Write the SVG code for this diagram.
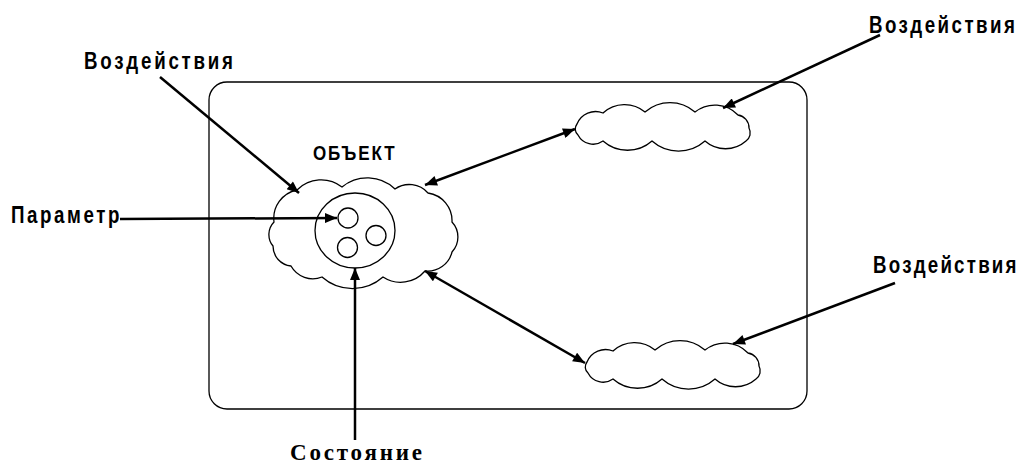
<svg xmlns="http://www.w3.org/2000/svg" width="1021" height="464" viewBox="0 0 1021 464">
  <style>
    .frame { fill: none; stroke: #000; stroke-width: 1.3; }
    .cloud { fill: #fff; stroke: #000; stroke-width: 1.3; }
    .ring { fill: none; stroke: #000; stroke-width: 1.3; }
    .arrow { fill: none; stroke: #000; stroke-width: 2.5; }
    .lbl { font-family: "Liberation Sans", Arial, sans-serif; font-weight: bold; font-size: 24px; fill: #000; }
    .lbl-small { font-family: "Liberation Sans", Arial, sans-serif; font-weight: bold; font-size: 20px; fill: #000; }
    .lbl-serif { font-family: "Liberation Serif", "Times New Roman", serif; font-weight: bold; font-size: 23px; fill: #000; }
  </style>
  <defs>
    <marker id="head" viewBox="0 0 12 10" refX="12" refY="5" markerWidth="13" markerHeight="10" markerUnits="userSpaceOnUse" orient="auto-start-reverse">
      <path d="M0,0 L12,5 L0,10 Z" fill="#000"/>
    </marker>
    <path id="smallCloud" d="M577,124 A20 20 0 0 1 603,113 A32 32 0 0 1 645,112 A38 38 0 0 1 695,112 A32 32 0 0 1 738,115 A13 13 0 0 1 749,128 A10 10 0 0 1 746,141 A31 31 0 0 1 705,141 A40 40 0 0 1 652,141 A37 37 0 0 1 603,141 A17 17 0 0 1 578,135 A8 8 0 0 1 577,124 Z"/>
  </defs>
  <rect width="1021" height="464" fill="#fff"/>

  <!-- system boundary -->
  <g id="system">
    <rect class="frame" x="209" y="82" width="598" height="327" rx="18" ry="18"/>
  </g>

  <!-- object with its state and parameters -->
  <g id="object">
    <path class="cloud" d="M274,222 A29 29 0 0 1 297,190 A34 34 0 0 1 342,187 A40 40 0 0 1 395,189 A25 25 0 0 1 428,193 A28 28 0 0 1 452,222 A22 22 0 0 1 452,252 A25 25 0 0 1 425,271 A32 32 0 0 1 383,277 A46 46 0 0 1 322,277 A25 25 0 0 1 291,266 A20 20 0 0 1 273,246 A18 18 0 0 1 274,222 Z"/>
    <ellipse class="ring" cx="355" cy="230.5" rx="40" ry="37.5"/>
    <circle class="ring" cx="348" cy="218" r="10"/>
    <circle class="ring" cx="376" cy="235.5" r="10"/>
    <circle class="ring" cx="347.5" cy="247.5" r="10"/>
    <text class="lbl-small" transform="translate(313,160) scale(0.85,1)" textLength="96" lengthAdjust="spacing">ОБЪЕКТ</text>
  </g>

  <!-- neighbouring systems -->
  <g id="env-upper">
    <use href="#smallCloud" class="cloud"/>
  </g>
  <g id="env-lower">
    <use href="#smallCloud" class="cloud" transform="translate(10,238)"/>
  </g>

  <!-- labels: condensed bold face, widened with letter spacing -->
  <g id="label-impact-left">
    <text class="lbl" transform="translate(84,69) scale(0.78,1)" textLength="191" lengthAdjust="spacing">Воздействия</text>
  </g>
  <g id="label-impact-top">
    <text class="lbl" transform="translate(869,33) scale(0.78,1)" textLength="187" lengthAdjust="spacing">Воздействия</text>
  </g>
  <g id="label-impact-right">
    <text class="lbl" transform="translate(873,273) scale(0.78,1)" textLength="184" lengthAdjust="spacing">Воздействия</text>
  </g>
  <g id="label-param">
    <text class="lbl" transform="translate(11,223) scale(0.78,1)" textLength="139" lengthAdjust="spacing">Параметр</text>
  </g>
  <g id="label-state">
    <text class="lbl-serif" x="290" y="460" textLength="132" lengthAdjust="spacing">Состояние</text>
  </g>

  <!-- connectors -->
  <g id="connectors">
    <line class="arrow" x1="160" y1="77" x2="299" y2="193" marker-end="url(#head)"/>
    <line class="arrow" x1="120" y1="219" x2="337" y2="218" marker-end="url(#head)"/>
    <line class="arrow" x1="355" y1="440" x2="355" y2="268" marker-end="url(#head)"/>
    <line class="arrow" x1="425" y1="185" x2="575" y2="129" marker-start="url(#head)" marker-end="url(#head)"/>
    <line class="arrow" x1="425" y1="271" x2="585" y2="363" marker-start="url(#head)" marker-end="url(#head)"/>
    <line class="arrow" x1="880" y1="35" x2="723" y2="108" marker-end="url(#head)"/>
    <line class="arrow" x1="895" y1="283" x2="733" y2="344" marker-end="url(#head)"/>
  </g>
</svg>
